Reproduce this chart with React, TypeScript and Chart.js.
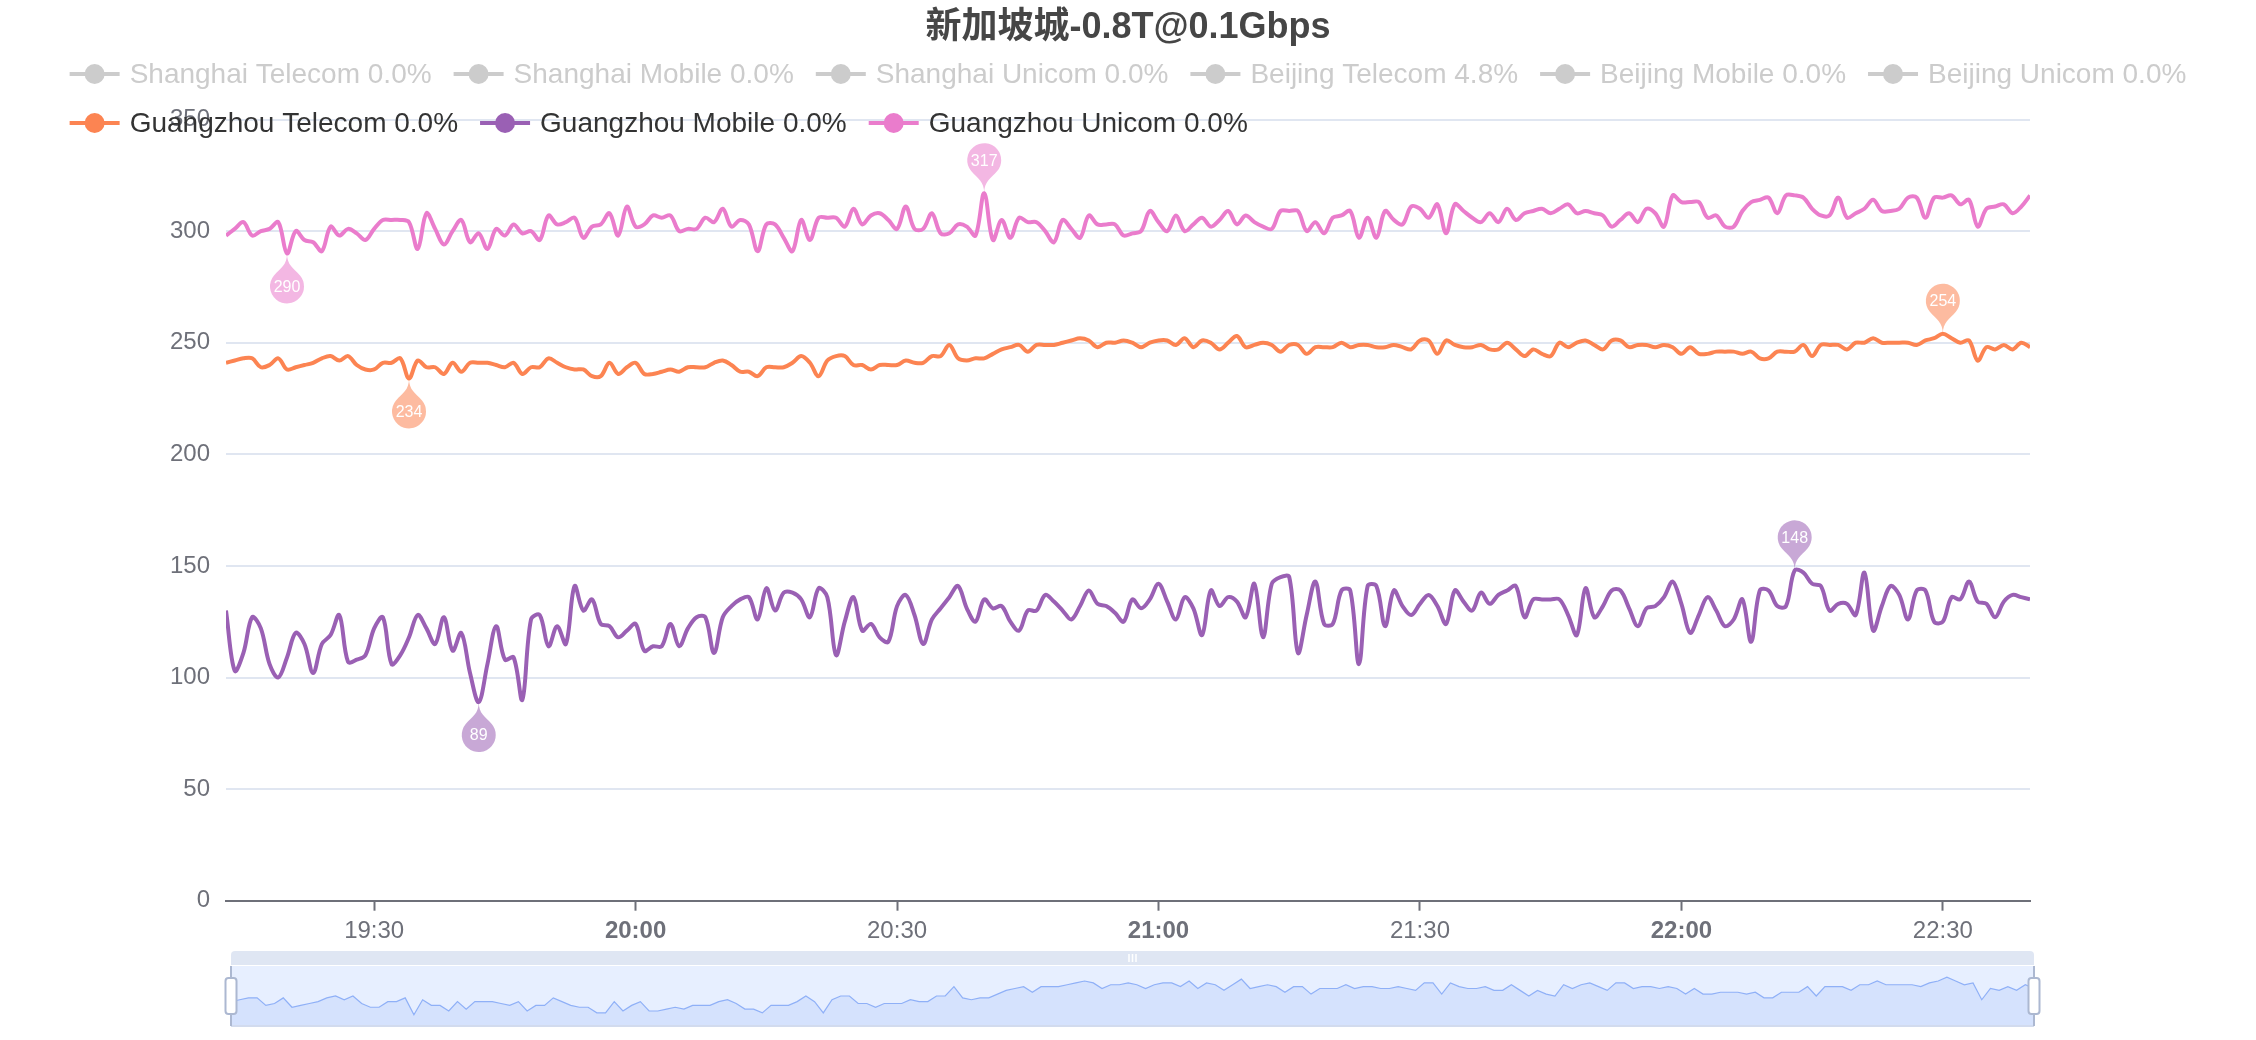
import React, { useEffect, useRef } from "react";
import { Chart, registerables } from "chart.js";

Chart.register(...registerables);

const FONT = '"Liberation Sans", "Noto Sans CJK SC", Arial, sans-serif';

const TITLE = "新加坡城-0.8T@0.1Gbps";
// minutes after 19:00 of the first sample (19:13), one sample per minute
const START_MINUTE = 13;
const END_MINUTE = 220;

const tickMinutes = [30, 60, 90, 120, 150, 180, 210];
const tickLabels = ["19:30", "20:00", "20:30", "21:00", "21:30", "22:00", "22:30"];

const inactiveLegend = [
  "Shanghai Telecom 0.0%",
  "Shanghai Mobile 0.0%",
  "Shanghai Unicom 0.0%",
  "Beijing Telecom 4.8%",
  "Beijing Mobile 0.0%",
  "Beijing Unicom 0.0%",
];
const seriesNames = ["Guangzhou Telecom 0.0%", "Guangzhou Mobile 0.0%", "Guangzhou Unicom 0.0%"];
const seriesColors = ["#fc8452", "#9a60b4", "#ea7ccc"];
const pinColors = ["rgba(252,132,82,0.55)", "rgba(154,96,180,0.55)", "rgba(234,124,204,0.55)"];

const guangzhouTelecom = [
  241, 242, 243, 243, 239, 240, 243, 238, 239, 240,
  241, 243, 244, 242, 244, 240, 238, 238, 241, 241,
  243, 234, 242, 239, 239, 236, 241, 237, 241, 241,
  241, 240, 239, 241, 236, 239, 239, 243, 241, 239,
  238, 238, 235, 235, 241, 236, 239, 241, 236, 236,
  237, 238, 237, 239, 239, 239, 241, 242, 240, 237,
  237, 235, 239, 239, 239, 241, 244, 241, 235, 242,
  244, 244, 240, 240, 238, 240, 240, 240, 242, 241,
  241, 244, 244, 249, 243, 242, 243, 243, 245, 247,
  248, 249, 246, 249, 249, 249, 250, 251, 252, 251,
  248, 250, 250, 251, 250, 248, 250, 251, 251, 249,
  252, 248, 251, 250, 247, 250, 253, 248, 249, 250,
  249, 246, 249, 249, 245, 248, 248, 248, 250, 248,
  249, 249, 248, 248, 249, 248, 247, 251, 251, 245,
  251, 249, 248, 248, 249, 247, 247, 250, 247, 244,
  247, 245, 244, 250, 248, 250, 251, 249, 247, 251,
  251, 248, 249, 249, 248, 249, 248, 245, 248, 245,
  245, 246, 246, 246, 245, 246, 243, 243, 246, 246,
  246, 249, 244, 249, 249, 249, 247, 250, 250, 252,
  250, 250, 250, 250, 249, 251, 252, 254, 252, 250,
  251, 242, 248, 247, 249, 247, 250, 248,
];

const guangzhouMobile = [
  130, 103, 111, 127, 122, 106, 100, 109, 120, 115,
  102, 115, 119, 128, 107, 108, 110, 122, 127, 106,
  110, 118, 128, 122, 115, 127, 112, 120, 102, 89,
  106, 123, 108, 109, 90, 126, 128, 114, 123, 115,
  141, 130, 135, 124, 123, 118, 121, 124, 112, 114,
  114, 124, 114, 122, 127, 127, 111, 127, 132, 135,
  136, 126, 140, 130, 138, 138, 135, 127, 140, 136,
  110, 125, 136, 121, 124, 118, 116, 132, 137, 128,
  115, 126, 131, 136, 141, 131, 125, 135, 131, 132,
  125, 121, 130, 130, 137, 134, 130, 126, 132, 139,
  133, 132, 129, 125, 135, 131, 135, 142, 134, 126,
  136, 131, 119, 139, 132, 136, 134, 127, 142, 118,
  142, 145, 145, 111, 128, 143, 124, 124, 139, 139,
  106, 141, 141, 123, 139, 132, 128, 133, 137, 132,
  124, 139, 134, 130, 138, 133, 137, 139, 141, 127,
  135, 135, 135, 135, 128, 119, 140, 127, 132, 139,
  139, 131, 123, 131, 132, 136, 143, 133, 120, 128,
  136, 130, 123, 126, 135, 116, 139, 139, 132, 132,
  148, 147, 142, 141, 130, 133, 133, 128, 147, 121,
  132, 141, 137, 126, 139, 139, 125, 125, 136, 135,
  143, 134, 133, 127, 134, 137, 136, 135,
];

const guangzhouUnicom = [
  298, 301, 304, 298, 300, 301, 304, 290, 300, 296,
  295, 291, 302, 298, 301, 299, 296, 301, 305, 305,
  305, 304, 292, 308, 301, 294, 300, 305, 295, 299,
  292, 301, 298, 303, 299, 300, 296, 307, 303, 304,
  306, 297, 302, 303, 308, 298, 311, 302, 303, 307,
  306, 307, 300, 301, 301, 306, 304, 310, 302, 305,
  303, 291, 303, 303, 297, 291, 305, 296, 306, 306,
  306, 302, 310, 303, 307, 308, 305, 301, 311, 301,
  301, 308, 299, 299, 303, 302, 298, 317, 296, 305,
  297, 306, 304, 304, 300, 295, 305, 301, 297, 307,
  303, 303, 303, 298, 299, 300, 309, 304, 300, 307,
  300, 303, 306, 302, 305, 309, 303, 307, 304, 302,
  301, 309, 309, 309, 300, 304, 299, 306, 307, 309,
  297, 306, 297, 309, 305, 303, 311, 310, 306, 312,
  299, 312, 309, 306, 304, 308, 304, 310, 305, 308,
  309, 310, 308, 310, 312, 308, 309, 308, 307, 302,
  305, 308, 304, 310, 308, 302, 316, 313, 313, 313,
  306, 307, 302, 302, 309, 313, 314, 315, 308, 316,
  316, 315, 310, 307, 307, 315, 306, 308, 310, 314,
  309, 309, 310, 315, 315, 306, 315, 315, 316, 312,
  314, 302, 310, 311, 312, 308, 311, 316,
];

const seriesValues = [guangzhouTelecom, guangzhouMobile, guangzhouUnicom];

const toPoints = (arr: number[]) => arr.map((v, i) => ({ x: START_MINUTE + i, y: v }));

function drawPin(ctx: CanvasRenderingContext2D, px: number, py: number, fill: string, label: string, below: boolean) {
  const r = 17;
  const d = 33;
  const a = (50 * Math.PI) / 180;
  ctx.save();
  ctx.translate(px, py);
  if (below) ctx.scale(1, -1);
  const jx = r * Math.sin(a);
  const jy = -d + r * Math.cos(a);
  const cp = r * 0.6;
  ctx.beginPath();
  ctx.moveTo(-jx, jy);
  ctx.arc(0, -d, r, Math.PI / 2 + a, Math.PI / 2 - a + Math.PI * 2);
  ctx.bezierCurveTo(jx - cp * Math.cos(a), jy + cp * Math.sin(a), 0, -r * 0.7, 0, 0);
  ctx.bezierCurveTo(0, -r * 0.7, -jx + cp * Math.cos(a), jy + cp * Math.sin(a), -jx, jy);
  ctx.closePath();
  ctx.fillStyle = fill;
  ctx.fill();
  ctx.restore();
  ctx.save();
  ctx.fillStyle = "#ffffff";
  ctx.font = `16px ${FONT}`;
  ctx.textAlign = "center";
  ctx.textBaseline = "middle";
  ctx.fillText(label, px, py + (below ? d : -d) + 1);
  ctx.restore();
}

const pinPlugin = {
  id: "pins",
  afterDatasetsDraw(chart: any) {
    const { ctx } = chart;
    const xs = chart.scales.x;
    const ys = chart.scales.y;
    seriesValues.forEach((vals, di) => {
      let maxI = 0;
      let minI = 0;
      vals.forEach((v, i) => {
        if (v > vals[maxI]) maxI = i;
        if (v < vals[minI]) minI = i;
      });
      drawPin(ctx, xs.getPixelForValue(START_MINUTE + maxI), ys.getPixelForValue(vals[maxI]), pinColors[di], String(vals[maxI]), false);
      drawPin(ctx, xs.getPixelForValue(START_MINUTE + minI), ys.getPixelForValue(vals[minI]), pinColors[di], String(vals[minI]), true);
    });
  },
};

const headerPlugin = {
  id: "header",
  afterDraw(chart: any) {
    const ctx: CanvasRenderingContext2D = chart.ctx;
    const W = chart.width;
    ctx.save();
    ctx.fillStyle = "#464646";
    ctx.font = `bold 36px ${FONT}`;
    ctx.textAlign = "center";
    ctx.textBaseline = "middle";
    ctx.fillText(TITLE, W / 2, 28);

    ctx.font = `28px ${FONT}`;
    const items = [
      ...inactiveLegend.map((n) => ({ name: n, color: "#cccccc", text: "#cccccc" })),
      ...seriesNames.map((n, i) => ({ name: n, color: seriesColors[i], text: "#333333" })),
    ];
    const rows = [items.slice(0, 6), items.slice(6)];
    const iconW = 50;
    const textGap = 10;
    const itemGap = 22;
    const widthOf = (it: any) => iconW + textGap + ctx.measureText(it.name).width;
    const row1W = rows[0].reduce((s, it) => s + widthOf(it), 0) + itemGap * (rows[0].length - 1);
    const startX = (W - row1W) / 2;
    const rowY = [74, 123];
    rows.forEach((row, ri) => {
      let x = startX;
      const y = rowY[ri];
      row.forEach((it) => {
        ctx.strokeStyle = it.color;
        ctx.lineWidth = 4;
        ctx.beginPath();
        ctx.moveTo(x, y);
        ctx.lineTo(x + iconW, y);
        ctx.stroke();
        ctx.fillStyle = it.color;
        ctx.beginPath();
        ctx.arc(x + iconW / 2, y, 10, 0, Math.PI * 2);
        ctx.fill();
        ctx.fillStyle = it.text;
        ctx.textAlign = "left";
        ctx.textBaseline = "middle";
        ctx.fillText(it.name, x + iconW + textGap, y + 1);
        x += widthOf(it) + itemGap;
      });
    });
    ctx.restore();
  },
};

const sliderPlugin = {
  id: "slider",
  beforeDatasetsDraw(chart: any) {
    const { ctx, chartArea: a } = chart;
    ctx.save();
    ctx.fillStyle = "rgb(231,239,255)";
    ctx.fillRect(a.left, a.top, a.right - a.left, a.bottom - a.top);
    // move handle bar
    ctx.fillStyle = "rgba(210,219,238,0.7)";
    ctx.beginPath();
    (ctx as any).roundRect(a.left, a.top - 15, a.right - a.left, 14, [4, 4, 0, 0]);
    ctx.fill();
    const cx = (a.left + a.right) / 2;
    ctx.strokeStyle = "#ffffff";
    ctx.lineWidth = 1.5;
    for (let k = -1; k <= 1; k++) {
      ctx.beginPath();
      ctx.moveTo(cx + k * 3.5, a.top - 12);
      ctx.lineTo(cx + k * 3.5, a.top - 4);
      ctx.stroke();
    }
    ctx.restore();
  },
  afterDatasetsDraw(chart: any) {
    const { ctx, chartArea: a } = chart;
    ctx.save();
    ctx.strokeStyle = "#d2dbee";
    ctx.lineWidth = 2;
    ctx.beginPath();
    ctx.moveTo(a.left, a.bottom);
    ctx.lineTo(a.right, a.bottom);
    ctx.stroke();
    [a.left, a.right].forEach((hx: number) => {
      ctx.strokeStyle = "#acb8d1";
      ctx.lineWidth = 2;
      ctx.beginPath();
      ctx.moveTo(hx, a.top);
      ctx.lineTo(hx, a.bottom);
      ctx.stroke();
      ctx.fillStyle = "#ffffff";
      ctx.beginPath();
      (ctx as any).roundRect(hx - 5.5, a.top + 12, 11, 36, 3);
      ctx.fill();
      ctx.stroke();
    });
    ctx.restore();
  },
};

export default function App() {
  const mainRef = useRef<HTMLCanvasElement | null>(null);
  const zoomRef = useRef<HTMLCanvasElement | null>(null);

  useEffect(() => {
    if (!mainRef.current || !zoomRef.current) return;
    const main = new Chart(mainRef.current, {
      type: "line",
      data: {
        datasets: seriesValues.map((vals, i) => ({
          label: seriesNames[i],
          data: toPoints(vals),
          borderColor: seriesColors[i],
          backgroundColor: seriesColors[i],
          borderWidth: 4,
          pointRadius: 0,
          tension: 0.35,
          fill: false,
        })),
      },
      options: {
        responsive: false,
        animation: false,
        devicePixelRatio: 1,
        layout: { padding: { left: 0, right: 226, top: 119.5, bottom: 99.3 } },
        plugins: {
          legend: { display: false },
          tooltip: { enabled: false },
          title: { display: false },
        },
        scales: {
          x: {
            type: "linear",
            min: START_MINUTE,
            max: END_MINUTE,
            afterBuildTicks: (axis: any) => {
              axis.ticks = tickMinutes.map((v) => ({ value: v }));
            },
            afterFit: (axis: any) => {
              axis.height = 40;
            },
            ticks: {
              autoSkip: false,
              maxRotation: 0,
              padding: 6,
              color: "#6E7079",
              callback: (_v: any, idx: number) => tickLabels[idx],
              font: (c: any) => ({
                family: FONT,
                size: 24,
                weight: c.tick && c.tick.value % 60 === 0 ? "bold" : "normal",
              }),
            },
            grid: {
              drawOnChartArea: false,
              drawTicks: true,
              tickLength: 10,
              tickWidth: 2,
              tickColor: "#6E7079",
              color: "#6E7079",
            },
            border: { display: true, color: "#6E7079", width: 2 },
          },
          y: {
            min: 0,
            max: 350,
            afterFit: (axis: any) => {
              axis.width = 226;
            },
            ticks: {
              stepSize: 50,
              padding: 16,
              color: "#6E7079",
              font: { family: FONT, size: 24 },
            },
            grid: { color: "#E0E6F1", lineWidth: 2, drawTicks: false },
            border: { display: false },
          },
        },
      } as any,
      plugins: [pinPlugin, headerPlugin],
    });

    const lo = Math.min(...guangzhouTelecom);
    const hi = Math.max(...guangzhouTelecom);
    const span = hi - lo;
    const zoom = new Chart(zoomRef.current, {
      type: "line",
      data: {
        datasets: [
          {
            data: toPoints(guangzhouTelecom),
            borderColor: "#8fb0f7",
            borderWidth: 1.2,
            backgroundColor: "rgba(143,176,247,0.2)",
            fill: "start",
            pointRadius: 0,
            tension: 0,
          },
        ],
      },
      options: {
        responsive: false,
        animation: false,
        devicePixelRatio: 1,
        layout: { padding: { left: 11, right: 16, top: 21, bottom: 9 } },
        plugins: { legend: { display: false }, tooltip: { enabled: false } },
        scales: {
          x: { type: "linear", display: false, min: START_MINUTE, max: END_MINUTE },
          y: { display: false, min: lo - span * 0.3, max: hi + span * 0.3 },
        },
      } as any,
      plugins: [sliderPlugin],
    });

    return () => {
      main.destroy();
      zoom.destroy();
    };
  }, []);

  return (
    <div style={{ position: "absolute", left: 0, top: 0, width: 2256, height: 1040, background: "#ffffff" }}>
      <canvas ref={mainRef} width={2256} height={1040} style={{ position: "absolute", left: 0, top: 0, width: 2256, height: 1040 }} />
      <canvas ref={zoomRef} width={1830} height={90} style={{ position: "absolute", left: 220, top: 945, width: 1830, height: 90 }} />
    </div>
  );
}
